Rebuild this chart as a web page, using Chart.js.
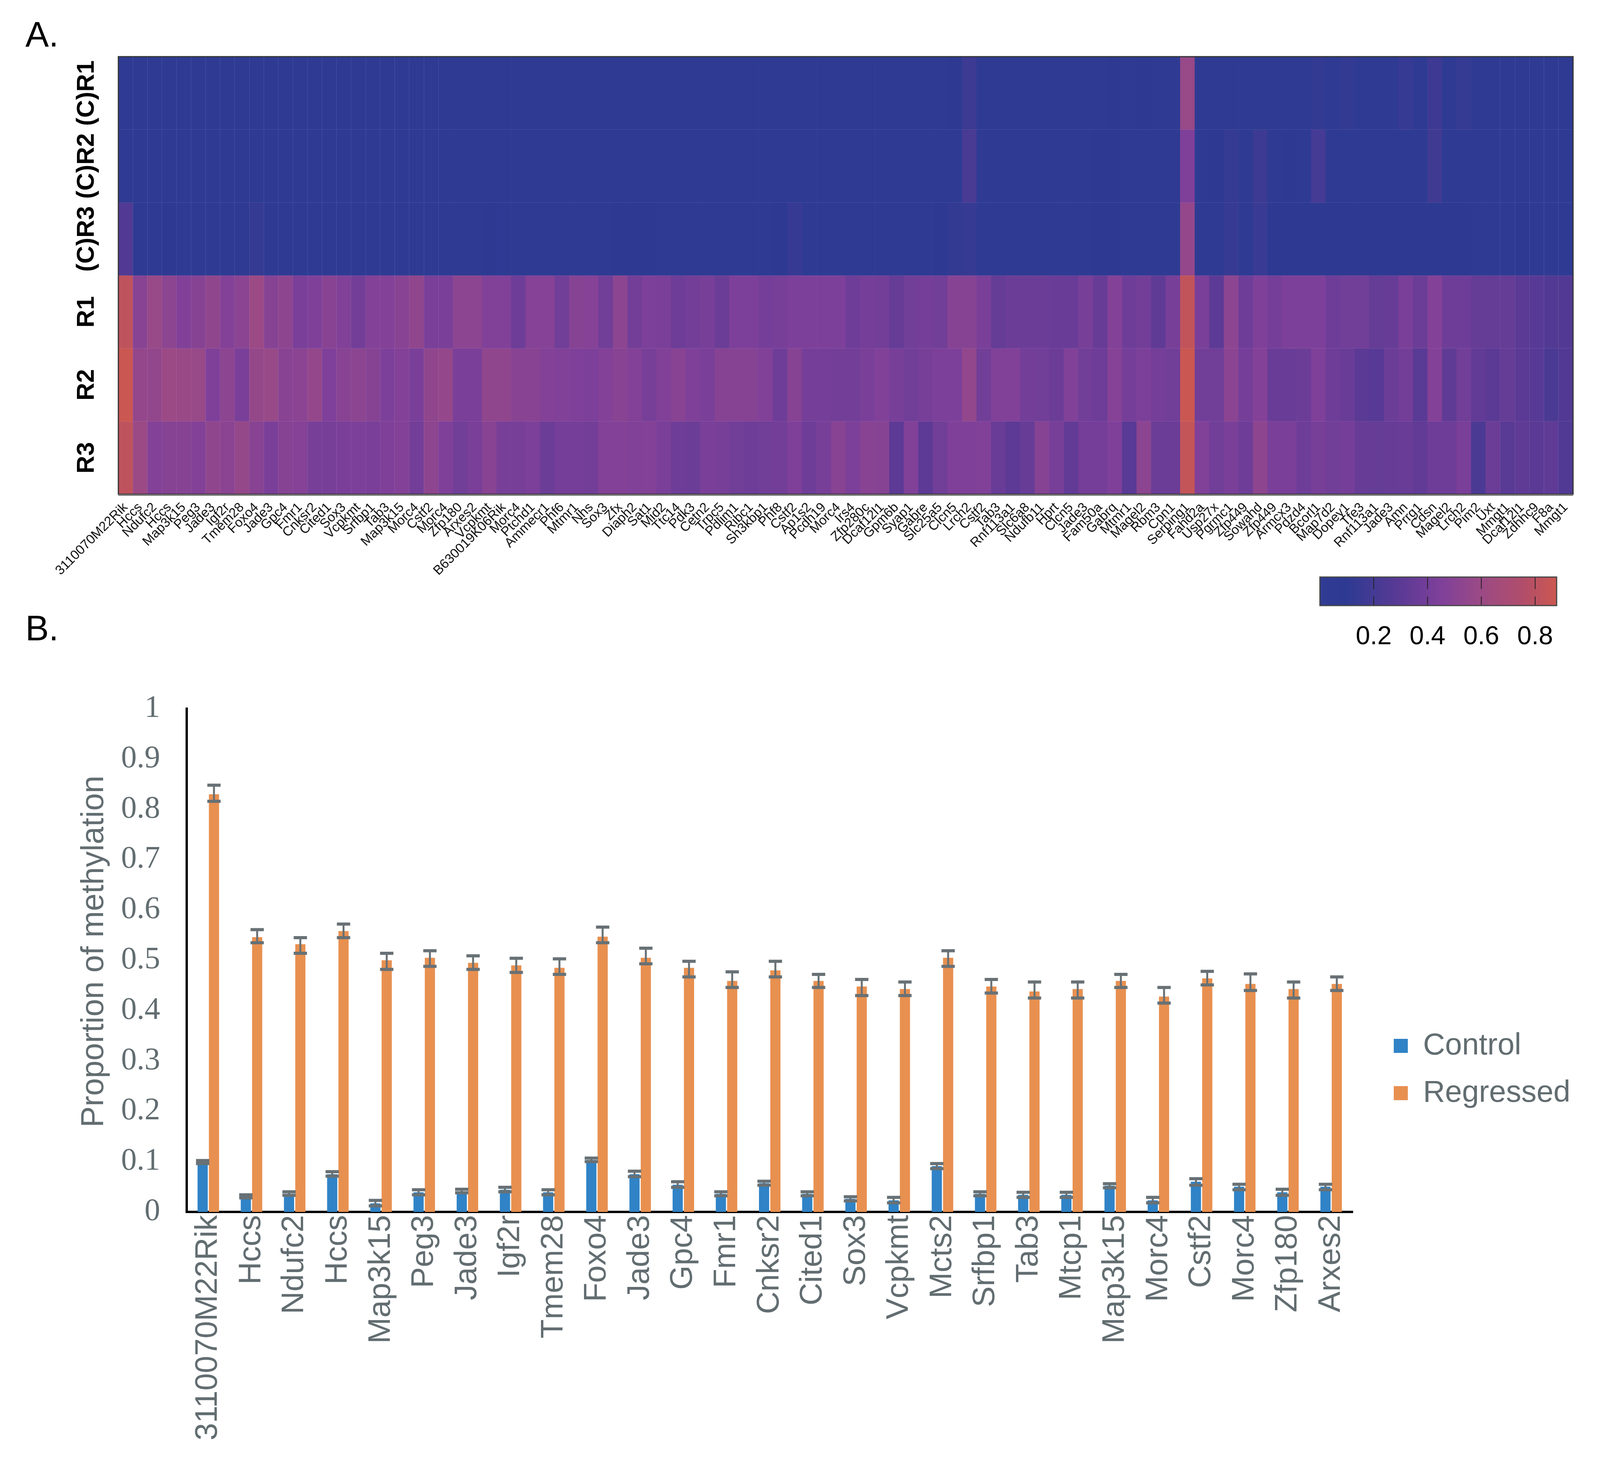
<!DOCTYPE html>
<html>
<head>
<meta charset="utf-8">
<script src="https://cdn.jsdelivr.net/npm/chart.js@4"></script>
<style>
html, body { margin: 0; background: #fff; width: 4108px; height: 3737px; overflow: hidden; }
canvas { position: absolute; }
.panel { position: absolute; left: 65px; font: 90px/1 "Liberation Sans", sans-serif; color: #000; }
</style>
</head>
<body>
<div class="panel" style="top:43px">A.</div>
<div class="panel" style="top:1563px">B.</div>
<canvas id="heat" style="left:0;top:0" width="4108" height="1475"></canvas>
<canvas id="scale" style="left:3300px;top:1470px" width="760" height="200"></canvas>
<canvas id="bars" style="left:0;top:1700px" width="4108" height="2037"></canvas>
<script>
// panel A
const heatGenes = ['3110070M22Rik','Hccs','Ndufc2','Hccs','Map3k15','Peg3','Jade3','Igf2r','Tmem28','Foxo4',
  'Jade3','Gpc4','Fmr1','Cnksr2','Cited1','Sox3','Vcpkmt','Srfbp1','Tab3','Map3k15',
  'Morc4','Cstf2','Morc4','Zfp180','Arxes2','Vcpkmt','B630019K06Rik','Morc4','Ptchd1','Ammecr1',
  'Phf6','Mtmr1','Nhs','Sox3','Zfx','Diaph2','Sat1','Mid2','Ttc14','Pdk3',
  'Cetn2','Trpc5','Pdlim1','Ribc1','Sh3kbp1','Phf8','Cstf2','Ap1s2','Pcdh19','Morc4',
  'Irs4','Zfp280c','Dcaf12l1','Gpm6b','Syap1','Gabre','Slc25a5','Clcn5','Lrch2','Cstf2',
  'Tab3','Rnf113a1','Slc6a8','Ndufb11','Hprt','Clcn5','Jade3','Fam50a','Gabrq','Mtmr1',
  'Magel2','Rbm3','Cpn1','Serping1','Fahd2a','Usp27x','Pgrmc1','Zfp449','Sowahd','Zfp449',
  'Armcx3','Pdzd4','Bcorl1','Map7d2','Dopey1','Tfe3','Rnf113a1','Jade3','Amn','Prrg1',
  'Cdsn','Magel2','Lrch2','Pim2','Uxt','Mmgt1','Dcaf12l1','Zdhhc9','F8a','Mmgt1'];
const rowLabels = ['(C)R1','(C)R2','(C)R3','R1','R2','R3'];

const rowC1 = [.07,.07,.07,.07,.07,.07,.07,.07,.07,.07, .07,.07,.07,.07,.07,.07,.07,.07,.07,.07,
  .07,.07,.07,.07,.07,.07,.07,.07,.07,.07, .06,.06,.06,.06,.06,.06,.06,.06,.06,.06,
  .06,.06,.06,.06,.06,.06,.06,.06,.06,.06, .06,.06,.06,.06,.06,.06,.06,.10,.16,.06,
  .06,.06,.06,.06,.06,.06,.06,.06,.08,.06, .09,.06,.06,.58,.06,.06,.07,.06,.07,.07,
  .07,.07,.12,.07,.12,.06,.06,.06,.14,.06, .17,.06,.13,.06,.06,.06,.06,.06,.06,.06];
const rowC2 = [.07,.07,.07,.07,.07,.07,.07,.07,.07,.07, .07,.07,.07,.07,.07,.07,.07,.07,.07,.07,
  .07,.07,.07,.07,.07,.07,.07,.07,.07,.07, .06,.06,.06,.06,.06,.06,.06,.06,.06,.06,
  .06,.06,.06,.06,.06,.06,.06,.06,.06,.06, .06,.06,.06,.07,.07,.07,.07,.06,.22,.06,
  .06,.06,.06,.06,.06,.06,.06,.08,.10,.07, .07,.07,.07,.45,.07,.09,.13,.07,.16,.07,
  .10,.07,.20,.06,.06,.06,.06,.07,.07,.07, .18,.06,.06,.06,.06,.07,.07,.07,.07,.07];
const rowC3 = [.26,.07,.07,.10,.07,.07,.07,.07,.07,.13, .07,.07,.07,.07,.07,.07,.07,.07,.07,.07,
  .07,.07,.07,.07,.07,.09,.07,.07,.07,.07, .07,.07,.07,.07,.08,.08,.08,.07,.07,.07,
  .07,.07,.07,.07,.07,.08,.14,.07,.07,.07, .06,.07,.07,.07,.07,.07,.09,.12,.14,.06,
  .06,.06,.06,.06,.06,.06,.06,.08,.10,.07, .07,.07,.07,.56,.07,.07,.14,.07,.15,.08,
  .08,.08,.08,.08,.08,.08,.08,.08,.08,.09, .10,.09,.10,.07,.07,.07,.08,.07,.07,.07];
const rowR1 = [.82,.50,.58,.52,.46,.49,.54,.47,.51,.60, .49,.53,.43,.45,.50,.46,.40,.47,.47,.50,
  .54,.43,.43,.52,.52,.46,.46,.38,.48,.48, .39,.49,.48,.39,.52,.40,.44,.43,.38,.40,
  .42,.37,.44,.44,.41,.42,.44,.44,.44,.44, .38,.41,.40,.34,.39,.41,.39,.49,.49,.43,
  .34,.37,.37,.37,.36,.36,.42,.35,.47,.38, .40,.32,.42,.83,.43,.31,.52,.38,.45,.41,
  .44,.44,.44,.38,.39,.39,.34,.35,.43,.37, .47,.38,.38,.34,.34,.34,.30,.28,.26,.26];
const rowR2 = [.87,.56,.55,.60,.59,.58,.45,.52,.43,.57, .58,.50,.51,.56,.45,.50,.52,.49,.44,.47,
  .43,.54,.56,.43,.43,.54,.54,.50,.50,.47, .46,.45,.44,.47,.50,.47,.42,.46,.50,.45,
  .43,.49,.49,.49,.46,.38,.49,.41,.41,.40, .40,.43,.46,.42,.39,.42,.44,.44,.55,.39,
  .46,.46,.40,.39,.37,.46,.39,.38,.48,.41, .44,.41,.39,.87,.39,.39,.51,.41,.47,.36,
  .36,.37,.45,.38,.36,.30,.28,.37,.40,.29, .47,.32,.39,.33,.30,.34,.30,.28,.23,.26];
const rowR3 = [.82,.60,.47,.49,.49,.47,.54,.51,.57,.50, .43,.49,.48,.42,.42,.43,.44,.43,.45,.47,
  .40,.53,.45,.39,.43,.50,.42,.42,.44,.37, .41,.41,.40,.47,.47,.46,.47,.43,.38,.37,
  .43,.42,.39,.38,.39,.40,.45,.38,.42,.50, .44,.50,.49,.31,.46,.31,.39,.45,.45,.46,
  .36,.31,.35,.49,.42,.33,.41,.41,.45,.29, .52,.37,.37,.84,.46,.39,.43,.38,.53,.43,
  .43,.38,.42,.39,.41,.35,.34,.35,.36,.33, .38,.38,.43,.23,.37,.29,.32,.30,.32,.25];
const heatRows = [rowC1, rowC2, rowC3, rowR1, rowR2, rowR3];

// colour bar
const stopValues = [0, .1, .3, .45, .6, .75, .88];
const stopColors = ['#303C94', '#2E3A92', '#5B3A95', '#7F409A', '#9B4A85', '#B04D6C', '#CC5850'];
const scaleTicks = [.2, .4, .6, .8];

// panel B
const barGenes = ['3110070M22Rik','Hccs','Ndufc2','Hccs','Map3k15','Peg3','Jade3','Igf2r','Tmem28','Foxo4',
  'Jade3','Gpc4','Fmr1','Cnksr2','Cited1','Sox3','Vcpkmt','Mcts2','Srfbp1','Tab3',
  'Mtcp1','Map3k15','Morc4','Cstf2','Morc4','Zfp180','Arxes2'];
const control = [.099,.031,.036,.075,.017,.039,.041,.044,.039,.103,.075,.054,.036,.057,.036,.026,.023,.091,.036,.034,.034,.052,.023,.06,.05,.039,.05];
const controlHigh = [.102,.034,.04,.08,.023,.044,.045,.049,.044,.107,.081,.06,.04,.061,.04,.03,.029,.096,.04,.039,.039,.056,.029,.066,.055,.045,.055];
const controlLow = [.096,.028,.033,.071,.012,.034,.038,.04,.034,.1,.07,.049,.032,.053,.032,.022,.018,.086,.032,.029,.029,.048,.018,.053,.044,.033,.044];
const regressed = [.83,.546,.532,.558,.5,.505,.495,.49,.485,.547,.505,.485,.459,.48,.459,.448,.443,.505,.448,.438,.443,.459,.428,.464,.453,.443,.453];
const regressedHigh = [.848,.561,.545,.572,.514,.519,.509,.504,.503,.566,.524,.498,.477,.498,.472,.462,.457,.519,.462,.457,.457,.472,.446,.478,.473,.457,.467];
const regressedLow = [.816,.535,.514,.545,.482,.488,.482,.476,.472,.535,.493,.467,.446,.467,.446,.43,.43,.488,.435,.425,.425,.446,.415,.451,.44,.425,.44];

const SANS = '"Liberation Sans", Arial, sans-serif';
const GREY = '#626d71';

function hexToRgb(h) {
  return [parseInt(h.slice(1, 3), 16), parseInt(h.slice(3, 5), 16), parseInt(h.slice(5, 7), 16)];
}

// value -> colour along the colour bar
function heatColor(v) {
  let i = 0;
  while (i < stopValues.length - 2 && v > stopValues[i + 1]) i++;
  const t = Math.min(1, Math.max(0, (v - stopValues[i]) / (stopValues[i + 1] - stopValues[i])));
  const a = hexToRgb(stopColors[i]), b = hexToRgb(stopColors[i + 1]);
  return 'rgb(' + a.map((c, k) => Math.round(c + (b[k] - c) * t)).join(',') + ')';
}

// each heatmap row is one stack level of height 1, coloured cell by cell
new Chart(document.getElementById('heat'), {
  type: 'bar',
  data: {
    labels: heatGenes,
    datasets: heatRows.map((row, r) => ({
      label: rowLabels[r],
      data: row.map(() => 1),
      backgroundColor: row.map(heatColor),
      borderWidth: 0,
      barPercentage: 1,
      categoryPercentage: 1
    }))
  },
  options: {
    responsive: false,
    animation: false,
    layout: { padding: { top: 145, right: 81, left: 0, bottom: 0 } },
    plugins: { legend: { display: false }, tooltip: { enabled: false } },
    scales: {
      x: {
        stacked: true,
        border: { display: false },
        grid: {
          z: 1,
          drawTicks: false,
          // only the outer columns show faint cell lines in the figure
          color: (c) => (c.index <= 22 || c.index >= 95) ? 'rgba(255,255,255,0.11)' : 'rgba(255,255,255,0)'
        },
        ticks: {
          autoSkip: false, minRotation: 45, maxRotation: 45, padding: 14,
          color: '#111', font: { family: SANS, size: 34 }
        },
        afterFit: (s) => { s.height = 210; }
      },
      y: {
        stacked: true,
        reverse: true,
        min: 0,
        max: 6,
        border: { display: false },
        grid: {
          z: 1,
          drawTicks: false,
          color: (c) => (c.tick && Number.isInteger(c.tick.value)) ? 'rgba(255,255,255,0.11)' : 'rgba(255,255,255,0)'
        },
        ticks: {
          stepSize: 0.5, autoSkip: false, maxTicksLimit: 20,
          minRotation: 90, maxRotation: 90, crossAlign: 'center', padding: -4,
          color: '#000', font: { family: SANS, size: 63, weight: 'bold' },
          callback: (v) => Number.isInteger(v) ? '' : rowLabels[Math.floor(v)]
        },
        afterFit: (s) => { s.width = 303; }
      }
    }
  },
  plugins: [{
    id: 'frame',
    afterDraw(chart) {
      const { ctx, chartArea: a } = chart;
      ctx.save();
      ctx.strokeStyle = '#333';
      ctx.lineWidth = 3;
      ctx.strokeRect(a.left, a.top, a.right - a.left, a.bottom - a.top);
      ctx.strokeStyle = '#777';
      ctx.lineWidth = 4;
      ctx.beginPath();
      ctx.moveTo(a.left, a.bottom + 2); ctx.lineTo(a.right, a.bottom + 2);
      ctx.stroke();
      ctx.restore();
    }
  }]
});

new Chart(document.getElementById('scale'), {
  type: 'bar',
  data: {
    labels: ['value'],
    datasets: [{
      data: [[0, .88]],
      barPercentage: 1,
      categoryPercentage: 1,
      borderWidth: 0,
      backgroundColor(c) {
        const a = c.chart.chartArea;
        if (!a) return stopColors[0];
        const g = c.chart.ctx.createLinearGradient(a.left, 0, a.right, 0);
        stopValues.forEach((v, i) => g.addColorStop(v / .88, stopColors[i]));
        return g;
      }
    }]
  },
  options: {
    indexAxis: 'y',
    responsive: false,
    animation: false,
    layout: { padding: { left: 79, right: 75, top: 7, bottom: 0 } },
    plugins: { legend: { display: false }, tooltip: { enabled: false } },
    scales: {
      y: { display: false },
      x: {
        min: 0,
        max: .88,
        afterBuildTicks: (s) => { s.ticks = scaleTicks.map((v) => ({ value: v })); },
        border: { display: false },
        grid: { display: false },
        ticks: { padding: 33, maxRotation: 0, color: '#000', font: { family: SANS, size: 66 },
          callback: (v) => v.toFixed(1) },
        afterFit: (s) => { s.height = 120; }
      }
    }
  },
  plugins: [{
    id: 'scaleMarks',
    afterDraw(chart) {
      const { ctx, chartArea: a, scales } = chart;
      const h = a.bottom - a.top;
      ctx.save();
      ctx.strokeStyle = '#222';
      ctx.lineWidth = 2;
      ctx.beginPath();
      scaleTicks.forEach((v) => {
        const x = scales.x.getPixelForValue(v);
        ctx.moveTo(x, a.top); ctx.lineTo(x, a.top + h * 0.42);
        ctx.moveTo(x, a.bottom - h * 0.32); ctx.lineTo(x, a.bottom);
      });
      ctx.stroke();
      ctx.strokeStyle = '#444';
      ctx.lineWidth = 3;
      ctx.strokeRect(a.left, a.top, a.right - a.left, h);
      ctx.restore();
    }
  }]
});

new Chart(document.getElementById('bars'), {
  type: 'bar',
  data: {
    labels: barGenes,
    datasets: [
      { label: 'Control', data: control, high: controlHigh, low: controlLow,
        backgroundColor: '#3083C6', borderWidth: 0, barPercentage: .9, categoryPercentage: .524 },
      { label: 'Regressed', data: regressed, high: regressedHigh, low: regressedLow,
        backgroundColor: '#E89050', borderWidth: 0, barPercentage: .9, categoryPercentage: .524 }
    ]
  },
  options: {
    responsive: false,
    animation: false,
    layout: { padding: { top: 114, right: 245, left: 0, bottom: 0 } },
    plugins: {
      tooltip: { enabled: false },
      legend: {
        position: 'right',
        align: 'start',
        maxWidth: 400,
        labels: { boxWidth: 36, boxHeight: 36, padding: 43, color: GREY, font: { family: SANS, size: 78 } }
      }
    },
    scales: {
      x: {
        grid: { display: false },
        border: { display: true, color: '#000', width: 6 },
        ticks: {
          autoSkip: false, minRotation: 90, maxRotation: 90, padding: 0,
          color: GREY, font: { family: SANS, size: 80 }
        },
        afterFit: (s) => { s.height = 635; }
      },
      y: {
        min: 0,
        max: 1,
        grid: { display: false },
        border: { display: true, color: '#000', width: 6 },
        title: {
          // the leading spaces lift the label a little above the axis centre, as in the figure
          display: true, text: '  Proportion of methylation', color: GREY,
          font: { family: SANS, size: 81 }, padding: { top: 193, bottom: 0 }
        },
        ticks: {
          stepSize: .1, padding: 60, color: GREY,
          font: { family: '"Liberation Serif", serif', size: 80 },
          callback: (v) => String(Math.round(v * 10) / 10)
        },
        afterFit: (s) => { s.width = 478; }
      }
    }
  },
  plugins: [{
    // legend sits beside the plot, not centred on the canvas
    id: 'legendSpot',
    afterLayout(chart) {
      chart.legend.left = 3525;
      chart.legend.right = 4108;
      chart.legend.top = 895;
    }
  }, {
    id: 'errorBars',
    afterDatasetsDraw(chart) {
      const { ctx, scales } = chart;
      ctx.save();
      ctx.strokeStyle = '#687175';
      chart.data.datasets.forEach((ds, d) => {
        chart.getDatasetMeta(d).data.forEach((bar, i) => {
          const top = scales.y.getPixelForValue(ds.high[i]);
          const bottom = scales.y.getPixelForValue(ds.low[i]);
          const half = bar.width / 2 + 4;
          ctx.lineWidth = 5;
          ctx.beginPath();
          ctx.moveTo(bar.x, top); ctx.lineTo(bar.x, bottom);
          ctx.stroke();
          ctx.lineWidth = 8;
          ctx.beginPath();
          ctx.moveTo(bar.x - half, top); ctx.lineTo(bar.x + half, top);
          ctx.moveTo(bar.x - half, bottom); ctx.lineTo(bar.x + half, bottom);
          ctx.stroke();
        });
      });
      ctx.restore();
    }
  }]
});
</script>
</body>
</html>
